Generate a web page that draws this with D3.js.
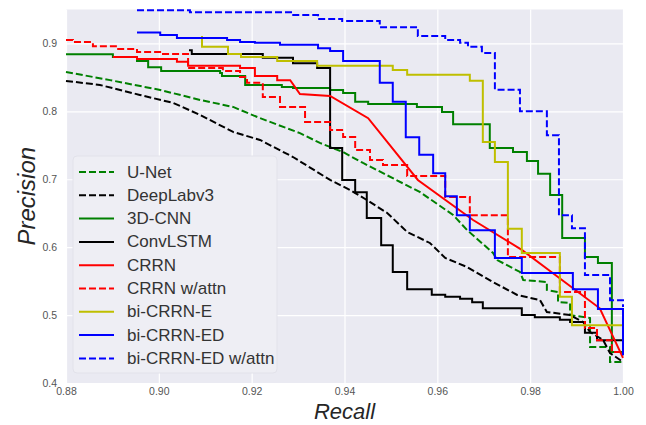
<!DOCTYPE html>
<html>
<head>
<meta charset="utf-8">
<script src="https://cdnjs.cloudflare.com/ajax/libs/d3/7.8.5/d3.min.js"></script>
<style>
body { margin: 0; background: white; }
text { font-family: "Liberation Sans", Arial, sans-serif; }
</style>
</head>
<body>
<svg id="chart" width="646" height="425"></svg>
<script>
var xTicks = [0.88, 0.90, 0.92, 0.94, 0.96, 0.98, 1.00];
var yTicks = [0.4, 0.5, 0.6, 0.7, 0.8, 0.9];
var models = ["U-Net", "DeepLabv3", "3D-CNN", "ConvLSTM", "CRRN", "CRRN w/attn",
	"bi-CRRN-E", "bi-CRRN-ED", "bi-CRRN-ED w/attn"];

// [recall, precision]
var unet = [[0.88,0.858],[0.8895,0.846],[0.9003,0.8315],[0.9089,0.8168],[0.9160,0.8065],
	[0.9218,0.790],[0.9304,0.768],[0.9347,0.7535],[0.9397,0.740],[0.9440,0.724],[0.9483,0.709],
	[0.9563,0.681],[0.9634,0.6474],[0.9664,0.6253],[0.9720,0.5915],[0.9729,0.5811],[0.9778,0.5635],
	[0.9785,0.5517],[0.9836,0.5487],[0.9836,0.537],[0.9860,0.534],[0.9860,0.5193],[0.9886,0.5178],
	[0.9886,0.500],[0.9929,0.4957],[0.9929,0.453],[0.9972,0.453],[0.9972,0.431],[1.0,0.431]];
var deeplab = [[0.88,0.8448],[0.8873,0.8389],[0.8959,0.8242],[0.9031,0.8124],[0.9089,0.7947],
	[0.9160,0.7697],[0.9218,0.7579],[0.9289,0.7328],[0.9369,0.699],[0.9412,0.6842],[0.9448,0.6695],
	[0.9492,0.6504],[0.9535,0.6224],[0.9584,0.6062],[0.9617,0.5841],[0.9664,0.5708],[0.9720,0.5487],
	[0.9772,0.5296],[0.9821,0.5222],[0.9836,0.5046],[0.9886,0.500],[0.9914,0.4898],[0.9929,0.4751],
	[0.9957,0.4633],[0.9972,0.4442],[1.0,0.431]];
var cnn3d = [[0.88,0.884],[0.8901,0.880],[0.8953,0.874],[0.8977,0.865],[0.9005,0.8595],
	[0.9132,0.8566],[0.9136,0.852],[0.9186,0.839],[0.9265,0.836],[0.9289,0.8345],[0.9369,0.8315],
	[0.9397,0.827],[0.9423,0.814],[0.9451,0.811],[0.9556,0.8065],[0.9610,0.799],[0.9634,0.781],
	[0.9713,0.746],[0.9763,0.740],[0.9793,0.727],[0.9817,0.708],[0.9843,0.677],[0.9869,0.6135],
	[0.9918,0.5856],[0.9946,0.5767],[0.9976,0.4457],[1.0,0.4457]];
var convlstm = [[0.9065,0.890],[0.9071,0.8845],[0.9224,0.879],[0.9289,0.871],[0.9341,0.864],
	[0.9369,0.746],[0.9395,0.699],[0.9423,0.681],[0.9448,0.643],[0.9479,0.603],[0.9504,0.5635],
	[0.9535,0.538],[0.9588,0.530],[0.9617,0.527],[0.9649,0.524],[0.9675,0.519],[0.9698,0.510],
	[0.9782,0.500],[0.9810,0.497],[0.9864,0.493],[0.9886,0.490],[0.9918,0.474],[0.9944,0.463],
	[1.0,0.460]];
var crrn = [[0.8901,0.880],[0.8953,0.880],[0.8953,0.877],[0.9039,0.877],[0.9039,0.873],
	[0.9063,0.873],[0.9063,0.867],[0.9175,0.867],[0.9175,0.864],[0.9207,0.864],[0.9207,0.852],
	[0.9255,0.852],[0.9255,0.846],[0.9283,0.846],[0.9304,0.8256],[0.9369,0.8227],[0.9451,0.790],
	[0.9558,0.699],[0.9677,0.640],[0.9782,0.596],[0.9950,0.510],[1.0,0.437]];
var crrnAttn = [[0.88,0.905],[0.8815,0.902],[0.8858,0.896],[0.8910,0.892],[0.8953,0.8875],
	[0.9009,0.8845],[0.9063,0.864],[0.9138,0.8595],[0.9175,0.8507],[0.9190,0.842],[0.9224,0.821],
	[0.9261,0.8065],[0.9315,0.7844],[0.9369,0.7726],[0.9397,0.7623],[0.9423,0.7432],[0.9455,0.7284],
	[0.9483,0.721],[0.9535,0.705],[0.9617,0.674],[0.9670,0.647],[0.9752,0.5856],[0.9864,0.534],
	[0.9918,0.481],[0.9944,0.463],[0.9976,0.4457],[1.0,0.441]];
var biE = [[0.9093,0.911],[0.9093,0.895],[0.9149,0.8845],[0.9177,0.880],[0.9255,0.874],
	[0.9341,0.867],[0.9504,0.861],[0.9535,0.854],[0.9670,0.845],[0.9698,0.755],[0.9724,0.7255],
	[0.9752,0.627],[0.9782,0.5915],[0.9864,0.527],[0.9890,0.485],[1.0,0.485]];
var biED = [[0.8953,0.916],[0.9003,0.9125],[0.9039,0.908],[0.9147,0.905],[0.9175,0.902],
	[0.9207,0.901],[0.9261,0.898],[0.9343,0.893],[0.9369,0.889],[0.9397,0.874],[0.9476,0.842],
	[0.9504,0.814],[0.9532,0.762],[0.9561,0.736],[0.9591,0.709],[0.9617,0.675],[0.9642,0.647],
	[0.9670,0.625],[0.9724,0.584],[0.9782,0.562],[0.9892,0.538],[0.9946,0.509],[1.0,0.441]];
var biEDAttn = [[0.8953,0.949],[0.9067,0.946],[0.9287,0.942],[0.9343,0.936],[0.9395,0.933],
	[0.9476,0.924],[0.9558,0.911],[0.9617,0.905],[0.9649,0.901],[0.9666,0.895],[0.9696,0.886],
	[0.9724,0.832],[0.9778,0.800],[0.9836,0.765],[0.9862,0.647],[0.9890,0.628],[0.9918,0.559],
	[0.9972,0.522],[1.0,0.512]];

var series = [unet, deeplab, cnn3d, convlstm, crrn, crrnAttn, biE, biED, biEDAttn];

// line styles, matplotlib-like colours
var styles = [
	{ color: "#008000", dash: "7,3", curve: d3.curveLinear },
	{ color: "#000000", dash: "7,3", curve: d3.curveLinear },
	{ color: "#008000", dash: null, curve: d3.curveStepAfter },
	{ color: "#000000", dash: null, curve: d3.curveStepAfter },
	{ color: "#ff0000", dash: null, curve: d3.curveLinear },
	{ color: "#ff0000", dash: "7,3", curve: d3.curveStepAfter },
	{ color: "#bfbf00", dash: null, curve: d3.curveStepAfter },
	{ color: "#0000ff", dash: null, curve: d3.curveStepAfter },
	{ color: "#0000ff", dash: "7,3", curve: d3.curveStepAfter }
];

var margin = { left: 66, right: 23, top: 9.5, bottom: 42 };
var W = 646, H = 425;
var plotW = W - margin.left - margin.right,
	plotH = H - margin.top - margin.bottom;

var svg = d3.select("#chart");

var x = d3.scaleLinear().domain([0.88, 1.0]).range([0, plotW]);
var y = d3.scaleLinear().domain([0.4, 0.95]).range([plotH, 0]);

var g = svg.append("g")
	.attr("transform", "translate(" + margin.left + "," + margin.top + ")");

g.append("rect")
	.attr("width", plotW)
	.attr("height", plotH)
	.attr("fill", "#eaeaf2");

g.append("clipPath").attr("id", "clip")
	.append("rect")
	.attr("x", -2).attr("y", -2)
	.attr("width", plotW + 4)
	.attr("height", plotH + 4);

// grid
g.append("g")
	.attr("class", "grid")
	.attr("transform", "translate(0," + plotH + ")")
	.call(d3.axisBottom(x).tickValues(xTicks).tickSize(-plotH).tickFormat(""))
	.call(function(a) { a.select(".domain").remove(); });
g.append("g")
	.attr("class", "grid")
	.call(d3.axisLeft(y).tickValues(yTicks).tickSize(-plotW).tickFormat(""))
	.call(function(a) { a.select(".domain").remove(); });
g.selectAll(".grid line")
	.attr("stroke", "white")
	.attr("stroke-width", 1.2);

// tick labels
var xAxis = g.append("g")
	.attr("transform", "translate(0," + plotH + ")")
	.call(d3.axisBottom(x).tickValues(xTicks).tickSize(0).tickPadding(5).tickFormat(d3.format(".2f")));
var yAxis = g.append("g")
	.call(d3.axisLeft(y).tickValues(yTicks).tickSize(0).tickPadding(9).tickFormat(d3.format(".1f")));
[xAxis, yAxis].forEach(function(a) {
	a.select(".domain").remove();
	a.selectAll("text")
		.attr("fill", "#555555")
		.attr("font-size", 10.5)
		.style("font-family", "'Liberation Sans', Arial, sans-serif");
});

// curves
var lines = g.append("g").attr("clip-path", "url(#clip)");
series.forEach(function(data, i) {
	var line = d3.line()
		.x(function(d) { return x(d[0]); })
		.y(function(d) { return y(d[1]); })
		.curve(styles[i].curve);
	lines.append("path")
		.datum(data)
		.attr("d", line)
		.attr("fill", "none")
		.attr("stroke", styles[i].color)
		.attr("stroke-width", 2)
		.attr("stroke-dasharray", styles[i].dash)
		.attr("stroke-linejoin", "miter");
});

// axis titles
svg.append("text")
	.attr("x", margin.left + plotW / 2)
	.attr("y", 419)
	.attr("text-anchor", "middle")
	.attr("font-size", 22)
	.attr("font-style", "italic")
	.attr("fill", "#262626")
	.text("Recall");
svg.append("text")
	.attr("transform", "translate(35," + (margin.top + plotH / 2) + ") rotate(-90)")
	.attr("text-anchor", "middle")
	.attr("font-size", 24)
	.attr("font-style", "italic")
	.attr("fill", "#262626")
	.text("Precision");

// legend
var lg = svg.append("g").attr("transform", "translate(73,156)");
lg.append("rect")
	.attr("width", 204)
	.attr("height", 217)
	.attr("rx", 4)
	.attr("fill", "#eeeef4")
	.attr("stroke", "#e2e2ea")
	.attr("stroke-width", 1);
models.forEach(function(name, i) {
	var cy = 16 + i * 23.3;
	lg.append("line")
		.attr("x1", 6).attr("x2", 41)
		.attr("y1", cy).attr("y2", cy)
		.attr("stroke", styles[i].color)
		.attr("stroke-width", 2)
		.attr("stroke-dasharray", styles[i].dash);
	lg.append("text")
		.attr("x", 54)
		.attr("y", cy)
		.attr("dominant-baseline", "central")
		.attr("font-size", 17)
		.attr("fill", "#333333")
		.text(name);
});
</script>
</body>
</html>
